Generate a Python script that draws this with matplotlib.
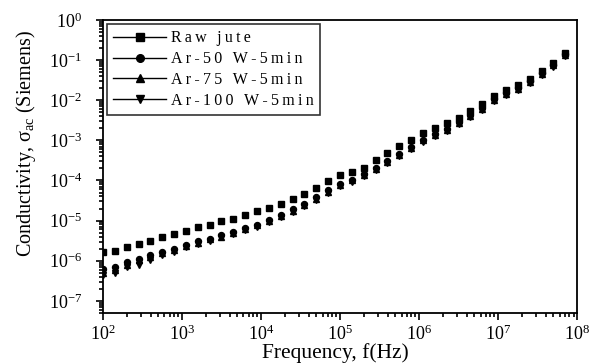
import numpy as np
import matplotlib
matplotlib.use('Agg')
import matplotlib.pyplot as plt
from matplotlib.lines import Line2D

plt.rcParams['font.family'] = ['Liberation Serif', 'DejaVu Serif']
plt.rcParams['mathtext.fontset'] = 'custom'
plt.rcParams['mathtext.rm'] = 'Liberation Serif'
plt.rcParams['mathtext.it'] = 'Liberation Serif:italic'

# frequency points (Hz)
freq = [100, 141, 200, 282, 398, 562, 794, 1122, 1585, 2239,
        3162, 4467, 6310, 8913, 12589, 17783, 25119, 35481, 50119, 70795,
        1.0e5, 1.413e5, 1.995e5, 2.818e5, 3.981e5, 5.623e5, 7.943e5, 1.122e6, 1.585e6, 2.239e6,
        3.162e6, 4.467e6, 6.310e6, 8.913e6, 1.259e7, 1.778e7, 2.512e7, 3.548e7, 5.012e7, 7.079e7]

# log10 of conductivity (Siemens)
raw_jute = [-5.78, -5.75, -5.66, -5.58, -5.50, -5.42, -5.33, -5.25, -5.17, -5.10,
            -5.02, -4.95, -4.86, -4.77, -4.68, -4.58, -4.46, -4.33, -4.18, -4.02,
            -3.87, -3.80, -3.68, -3.50, -3.32, -3.15, -2.98, -2.82, -2.70, -2.58,
            -2.45, -2.28, -2.10, -1.90, -1.75, -1.62, -1.48, -1.27, -1.07, -0.82]
ar_50 = [-6.20, -6.15, -6.02, -5.95, -5.85, -5.78, -5.70, -5.60, -5.52, -5.45,
         -5.37, -5.28, -5.18, -5.10, -4.98, -4.86, -4.72, -4.58, -4.42, -4.25,
         -4.10, -3.98, -3.85, -3.70, -3.52, -3.35, -3.16, -2.98, -2.85, -2.72,
         -2.55, -2.38, -2.20, -1.98, -1.82, -1.69, -1.53, -1.33, -1.11, -0.85]
ar_75 = [-6.30, -6.22, -6.10, -5.98, -5.90, -5.82, -5.74, -5.64, -5.55, -5.47,
         -5.40, -5.31, -5.21, -5.12, -5.01, -4.89, -4.75, -4.61, -4.45, -4.28,
         -4.12, -4.00, -3.87, -3.72, -3.54, -3.37, -3.18, -3.00, -2.87, -2.74,
         -2.57, -2.40, -2.22, -2.00, -1.84, -1.71, -1.55, -1.35, -1.13, -0.87]
ar_100 = [-6.35, -6.30, -6.15, -6.10, -5.98, -5.85, -5.78, -5.66, -5.58, -5.50,
          -5.42, -5.33, -5.24, -5.15, -5.04, -4.92, -4.78, -4.64, -4.48, -4.31,
          -4.15, -4.03, -3.90, -3.75, -3.57, -3.40, -3.21, -3.03, -2.90, -2.77,
          -2.60, -2.43, -2.25, -2.03, -1.87, -1.74, -1.58, -1.38, -1.16, -0.90]

labels = ['Raw jute', 'Ar-50 W-5min', 'Ar-75 W-5min', 'Ar-100 W-5min']
markers = ['s', 'o', '^', 'v']

fig = plt.figure(figsize=(5.95, 3.63), dpi=100)
ax = fig.add_axes([0.173, 0.138, 0.797, 0.807])

handles = []
for ys, m, lab in zip([raw_jute, ar_50, ar_75, ar_100], markers, labels):
    ax.plot(freq, 10.0 ** np.array(ys), linestyle='none', marker=m,
            color='black', ms=4.3)
    # letter-spaced legend text, like the original
    spaced = '\u2009'.join(lab)
    handles.append(Line2D([], [], color='black', lw=1, marker=m, ms=5.5, label=spaced))

ax.set_xscale('log')
ax.set_yscale('log')
ax.set_xlim(100, 1e8)
ax.set_ylim(5e-8, 1)

ax.tick_params(which='both', direction='out', top=False, right=False, labelsize=13, width=1.2)
ax.tick_params(which='major', length=5)
ax.tick_params(which='minor', length=3)
ax.tick_params(axis='y', pad=10)
for s in ax.spines.values():
    s.set_linewidth(1.3)

ax.set_xlabel('Frequency, f(Hz)', fontsize=15.5)
ax.xaxis.set_label_coords(0.49, -0.102)
ax.xaxis.label.set_va('top')
ax.set_ylabel(r'Conductivity, σ$_{\mathrm{ac}}$ (Siemens)', fontsize=14.5)
ax.yaxis.set_label_coords(-0.137, 0.577)

leg = ax.legend(handles=handles, loc='upper left', fontsize=11.5, frameon=True,
                fancybox=False, handlelength=3.3, borderaxespad=0.25,
                labelspacing=0.3, handletextpad=0.3, borderpad=0.4)
leg.get_frame().set_edgecolor('black')
leg.get_frame().set_linewidth(1.2)

fig.savefig('out.png', dpi=100)
